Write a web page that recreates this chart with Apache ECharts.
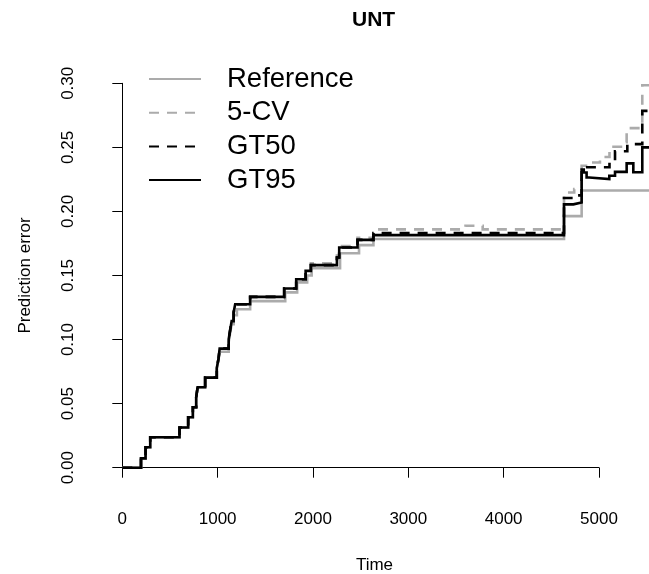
<!DOCTYPE html>
<html><head><meta charset="utf-8">
<script src="https://cdn.jsdelivr.net/npm/echarts@6/dist/echarts.min.js"></script>
<style>html,body{margin:0;padding:0;background:#fff}#c{width:649px;height:574px}</style>
</head><body><div id="c"></div>
<script>
// ---------------- data ----------------
const chartTitle = 'UNT';
const xName = 'Time';
const yName = 'Prediction error';
const seriesNames = ['Reference', '5-CV', 'GT50', 'GT95'];
const xTickValues = [0, 1000, 2000, 3000, 4000, 5000];
const yTickValues = [0.00, 0.05, 0.10, 0.15, 0.20, 0.25, 0.30];
const tEnd = 5600;

// step functions: value v[i] holds from t[i] until t[i+1]
const refTimes  = [0,196,244,293,600,691,740,775,790,869,991,1010,1021,1116,1131,1147,1168,1202,1341,1709,1834,1939,1986,2284,2483,2634,4633,4818];
const refValues = [0,0.0073,0.016,0.0238,0.0314,0.0394,0.0472,0.055,0.0628,0.0703,0.0777,0.0845,0.0905,0.098,0.105,0.112,0.119,0.1237,0.130,0.1368,0.1446,0.150,0.1557,0.1674,0.1737,0.1785,0.1963,0.2163];

const cvTimes  = [0,196,244,293,600,691,740,775,790,869,991,1010,1021,1116,1131,1147,1168,1184,1341,1698,1824,1923,1978,2251,2275,2467,2634,3600,3780,4633,4740,4818,4906,5010,5110,5230,5290,5454];
const cvValues = [0,0.0073,0.016,0.0238,0.0314,0.0394,0.0472,0.055,0.0628,0.0703,0.0777,0.0855,0.0929,0.1003,0.1073,0.1144,0.1214,0.1276,0.1333,0.1399,0.1471,0.1536,0.1595,0.1655,0.173,0.1795,0.186,0.1888,0.186,0.2148,0.2174,0.2356,0.2382,0.2425,0.2505,0.254,0.265,0.2985];

const gt50Times  = [0,196,244,293,600,691,740,775,790,869,991,1010,1021,1116,1131,1147,1168,1184,1341,1698,1824,1923,1978,2251,2275,2467,2634,4633,4740,4818,5110,5168,5297,5454];
const gt50Values = [0,0.0073,0.016,0.0238,0.0314,0.0394,0.0472,0.055,0.0628,0.0703,0.0777,0.0855,0.0929,0.1003,0.1073,0.1144,0.1214,0.1276,0.1333,0.1399,0.1471,0.1536,0.1581,0.1641,0.1719,0.1778,0.1832,0.2105,0.2125,0.2345,0.2395,0.247,0.2525,0.2785];

const gt95Times  = [0,196,244,293,600,691,740,775,790,869,991,1010,1021,1116,1131,1147,1168,1184,1341,1698,1824,1923,1978,2251,2275,2467,2634,4633,4731,4818,4840,4870,4898,5108,5168,5290,5360,5454];
const gt95Values = [0,0.0073,0.016,0.0238,0.0314,0.0394,0.0472,0.055,0.0628,0.0703,0.0777,0.0855,0.0929,0.1003,0.1073,0.1144,0.1214,0.1276,0.1333,0.1399,0.1471,0.1536,0.1581,0.1641,0.1719,0.1778,0.1815,0.2055,0.207,0.2327,0.2304,0.2265,0.2252,0.2278,0.2309,0.2375,0.2306,0.250];

// ---------------- build ----------------
function pairs(ts, vs) {
  const out = ts.map((t, i) => [t, vs[i]]);
  out.push([tEnd, vs[vs.length - 1]]);
  return out;
}
const FONT = '"Liberation Sans", Arial, Helvetica, sans-serif';
const GRAY = '#ababab';
const LW = 2.6;
const DASH = [10, 8];

const styles = [
  { color: GRAY, type: 'solid' },
  { color: GRAY, type: DASH },
  { color: '#000', type: DASH },
  { color: '#000', type: 'solid' }
];
const dataSets = [pairs(refTimes, refValues), pairs(cvTimes, cvValues), pairs(gt50Times, gt50Values), pairs(gt95Times, gt95Values)];

// pixel scale: 0 -> x=122.3, 5000 -> x=599
const pxPerUnit = (599 - 122.3) / 5000;
const mainMin = -(122.3 - 100) / pxPerUnit;
const mainMax = mainMin + 549 / pxPerUnit;

const chart = echarts.init(document.getElementById('c'), null, { renderer: 'canvas' });
chart.setOption({
  animation: false,
  backgroundColor: '#fff',
  textStyle: { fontFamily: FONT },
  title: {
    text: chartTitle, left: 352, top: 10, padding: 0,
    textStyle: { fontFamily: FONT, fontSize: 21, fontWeight: 'bold', color: '#000' }
  },
  legend: {
    data: seriesNames,
    orient: 'vertical', left: 148, top: 65, padding: 0,
    itemWidth: 52, itemHeight: 28, itemGap: 5.7,
    selectedMode: false,
    itemStyle: { opacity: 0 },
    textStyle: { fontFamily: FONT, fontSize: 27.5, color: '#000', lineHeight: 28, padding: [0, 0, 0, 21] }
  },
  grid: [
    { left: 100, right: 0, top: 83.3, bottom: 106.3, containLabel: false, outerBoundsMode: 'none' },
    { left: 122.3, right: 50, top: 83.3, bottom: 106.3, containLabel: false, outerBoundsMode: 'none' }
  ],
  xAxis: [
    {
      gridIndex: 0, type: 'value', min: mainMin, max: mainMax,
      axisLine: { show: false }, axisTick: { show: false }, axisLabel: { show: false }, splitLine: { show: false },
      name: xName, nameLocation: 'middle', nameGap: 89,
      nameTextStyle: { fontFamily: FONT, fontSize: 17, color: '#000' }
    },
    {
      gridIndex: 1, type: 'value', min: xTickValues[0], max: xTickValues[xTickValues.length - 1], interval: 1000,
      offset: 17.3,
      axisLine: { show: true, lineStyle: { color: '#000', width: 1 } },
      axisTick: { show: true, length: 10, lineStyle: { color: '#000', width: 1 } },
      axisLabel: { show: true, fontFamily: FONT, fontSize: 17, color: '#000', margin: 26, formatter: v => String(v) },
      splitLine: { show: false }
    }
  ],
  yAxis: [
    {
      gridIndex: 0, type: 'value', min: yTickValues[0], max: yTickValues[yTickValues.length - 1], interval: 0.05,
      axisLine: { show: true, lineStyle: { color: '#000', width: 1 } },
      axisTick: { show: true, length: 10, lineStyle: { color: '#000', width: 1 } },
      axisLabel: { show: true, rotate: 90, fontFamily: FONT, fontSize: 17, color: '#000', margin: 23, formatter: v => v.toFixed(2) },
      splitLine: { show: false },
      name: yName, nameLocation: 'middle', nameGap: 66,
      nameTextStyle: { fontFamily: FONT, fontSize: 17, color: '#000' }
    },
    { gridIndex: 1, type: 'value', min: 0, max: 0.3, show: false }
  ],
  series: seriesNames.map((n, i) => ({
    name: n, type: 'line', xAxisIndex: 0, yAxisIndex: 0,
    step: 'end', symbol: 'none', clip: false,
    color: styles[i].color,
    lineStyle: { color: styles[i].color, width: LW, type: styles[i].type, cap: 'butt', join: 'miter' },
    data: dataSets[i], z: 2 + i
  }))
});
</script>
</body></html>
